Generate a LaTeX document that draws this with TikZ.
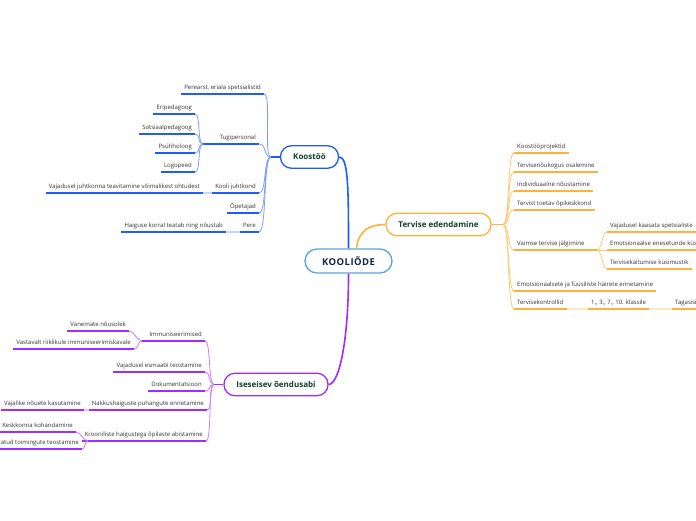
\documentclass[tikz,border=0pt]{standalone}
\usepackage{fontspec}
\setmainfont{Open Sans}
\newfontfamily\rootfont[LetterSpace=5]{Open Sans}
\usepackage{xcolor}
\usepackage{tikz}
\usetikzlibrary{positioning}
\definecolor{kblue}{HTML}{1F5BFF}
\definecolor{kbluel}{HTML}{7C9DFF}
\definecolor{kbluef}{HTML}{C8D7FF}
\definecolor{korange}{HTML}{FFB13B}
\definecolor{korangel}{HTML}{FFC870}
\definecolor{korangef}{HTML}{FFE7C2}
\definecolor{kpurple}{HTML}{A22BFF}
\definecolor{kpurplel}{HTML}{C67DFF}
\definecolor{kpurplef}{HTML}{E8C9FF}
\definecolor{rootline}{HTML}{5AA5DE}
\definecolor{roottext}{HTML}{13244A}
\definecolor{maintext}{HTML}{0F3F2C}
\tikzset{
  leaf/.style={font=\fontsize{6}{7}\selectfont,text=black!80,inner xsep=3pt,inner ysep=3pt,
    text height=4.4pt,text depth=1.2pt,
    append after command={(\tikzlastnode.south west) edge[draw=#1,line width=1.4pt] (\tikzlastnode.south east)}},
  lleaf/.style={leaf=#1,anchor=south east},
  rleaf/.style={leaf=#1,anchor=south west},
  mainbox/.style={draw=#1,line width=1.3pt,rounded corners=11pt,fill=white,minimum height=22.5pt,
    text=maintext,font=\bfseries\fontsize{8}{9}\selectfont},
  twig/.style={draw=#1,line width=0.8pt},
  stem/.style={draw=#1,line width=1.4pt},
  faint/.style={draw=#1,line width=1.4pt},
  trunk/.style={draw=#1,line width=1.6pt}
}
\begin{document}
\begin{tikzpicture}[x=1pt,y=-1pt]
\useasboundingbox (0,0) rectangle (696,520);
\clip (0,0) rectangle (696,520);
\node[draw=rootline,line width=1.3pt,rounded corners=12pt,fill=white,minimum width=87pt,minimum height=24pt,
  text=roottext,font=\rootfont\bfseries\fontsize{9.5}{11}\selectfont] (root) at (348.5,261) {KOOLIÕDE};
\node[mainbox=kblue,minimum width=58pt] (koost) at (309.5,157) {Koostöö};
\node[mainbox=korange,minimum width=105pt] (terv) at (438.5,224.5) {Tervise edendamine};
\node[mainbox=kpurple,minimum width=104pt] (isese) at (276,384.5) {Iseseisev õendusabi};
\draw[trunk=kblue] (root.north) .. controls +(0,-62) and +(9,0) .. (koost.east);
\draw[trunk=korange] ([xshift=8pt]root.north) .. controls +(2,-18) and +(-16,0) .. (terv.west);
\draw[trunk=kpurple] (root.south) .. controls +(0,70) and +(10,0) .. (isese.east);
% Koostöö
\coordinate (kHub) at (271,157);
\draw[stem=kblue] (koost.west) -- (kHub);
\node[lleaf=kblue] (pere1) at (264,94) {Perearst, eriala spetsialistid};
\node[lleaf=kblue] (tugi) at (259,144) {Tugipersonal};
\node[lleaf=kblue] (juht) at (259,193) {Kooli juhtkond};
\node[lleaf=kblue] (opet) at (259,213) {Õpetajad};
\node[lleaf=kblue] (pere) at (259,232) {Pere};
\foreach \c in {pere1,tugi,juht,opet,pere}
  \draw[twig=kbluel] (kHub) .. controls +(-8,0) and +(8,0) .. (\c.south east);
\coordinate (tgHub) at (203,144);
\draw[stem=kblue] (tugi.south west) -- (tgHub);
\node[lleaf=kblue] (eripe) at (195,114) {Eripedagoog};
\node[lleaf=kblue] (sots) at (195,134) {Sotsiaalpedagoog};
\node[lleaf=kblue] (psyh) at (195,153) {Psühholoog};
\node[lleaf=kblue] (logo) at (195,172) {Logopeed};
\foreach \c in {eripe,sots,psyh,logo}
  \draw[twig=kbluel] (tgHub) .. controls +(-6,0) and +(6,0) .. (\c.south east);
\node[lleaf=kblue] (vajad) at (203,193) {Vajadusel juhtkonna teavitamine võimalikest ohtudest};
\draw[faint=kbluef] (vajad.south east) -- (juht.south west);
\node[lleaf=kblue] (haig) at (226,232) {Haiguse korral teatab ning nõustab};
\draw[faint=kbluef] (haig.south east) -- (pere.south west);
% Tervise edendamine
\coordinate (tHub) at (503,224.5);
\draw[stem=korange] (terv.east) -- (tHub);
\node[rleaf=korange] (kproj) at (514,153) {Koostööprojektid};
\node[rleaf=korange] (tnouk) at (514,172) {Tervisenõukogus osalemine};
\node[rleaf=korange] (indiv) at (514,191) {Individuaalne nõustamine};
\node[rleaf=korange] (tkesk) at (514,210) {Tervist toetav õpikeskkond};
\node[rleaf=korange] (vaim) at (514,250) {Vaimse tervise jälgimine};
\node[rleaf=korange] (emots) at (514,291) {Emotsionaalsete ja füüsiliste häirete ennetamine};
\node[rleaf=korange] (tkontr) at (514,309) {Tervisekontrollid};
\foreach \c in {kproj,tnouk,indiv,tkesk,vaim,emots,tkontr}
  \draw[twig=korangel] (tHub) .. controls +(7,0) and +(-7,0) .. (\c.south west);
\coordinate (vHub) at (597,250);
\draw[stem=korange] (vaim.south east) -- (vHub);
\node[rleaf=korange] (vkaas) at (607,232) {Vajadusel kaasata spetsialiste};
\node[rleaf=korange] (vemot) at (607,250) {Emotsionaalse enesetunde küsimustik};
\node[rleaf=korange] (vkys) at (607,269) {Tervisekäitumise küsimustik};
\foreach \c in {vkaas,vemot,vkys}
  \draw[twig=korangel] (vHub) .. controls +(5,0) and +(-5,0) .. (\c.south west);
\node[rleaf=korange] (klass) at (588,309) {1., 3., 7., 10. klassile};
\node[rleaf=korange] (tagas) at (672,309) {Tagasiside};
\draw[faint=korangef] (tkontr.south east) -- (klass.south west);
\draw[faint=korangef] (klass.south east) -- (tagas.south west);
% Iseseisev õendusabi
\coordinate (iHub) at (214,384.5);
\draw[stem=kpurple] (isese.west) -- (iHub);
\node[lleaf=kpurple] (immun) at (205,341) {Immuniseerimised};
\node[lleaf=kpurple] (esmaa) at (205,372) {Vajadusel esmaabi teostamine};
\node[lleaf=kpurple] (dokum) at (205,391) {Dokumentatsioon};
\node[lleaf=kpurple] (nakk) at (207,410) {Nakkushaiguste puhangute ennetamine};
\node[lleaf=kpurple] (kroon) at (206,441) {Krooniliste haigustega õpilaste abistamine};
\foreach \c in {immun,esmaa,dokum,nakk,kroon}
  \draw[twig=kpurplel] (iHub) .. controls +(-6,0) and +(6,0) .. (\c.south east);
\coordinate (imHub) at (142,341);
\draw[stem=kpurple] (immun.south west) -- (imHub);
\node[lleaf=kpurple] (vanem) at (129,331) {Vanemate nõusolek};
\node[lleaf=kpurple] (vasta) at (134,349) {Vastavalt riiklikule immuniseerimiskavale};
\foreach \c in {vanem,vasta}
  \draw[twig=kpurplel] (imHub) .. controls +(-5,0) and +(5,0) .. (\c.south east);
\node[lleaf=kpurple] (nouet) at (84,410) {Vajalike nõuete kasutamine};
\draw[faint=kpurplef] (nouet.south east) -- (nakk.south west);
\coordinate (krHub) at (88,441);
\draw[stem=kpurple] (kroon.south west) -- (krHub);
\node[lleaf=kpurple] (kesk) at (76,432) {Keskkonna kohandamine};
\node[lleaf=kpurple] (maar) at (82,449) {Määratud toimingute teostamine};
\foreach \c in {kesk,maar}
  \draw[twig=kpurplel] (krHub) .. controls +(-4,0) and +(4,0) .. (\c.south east);
\end{tikzpicture}
\end{document}
